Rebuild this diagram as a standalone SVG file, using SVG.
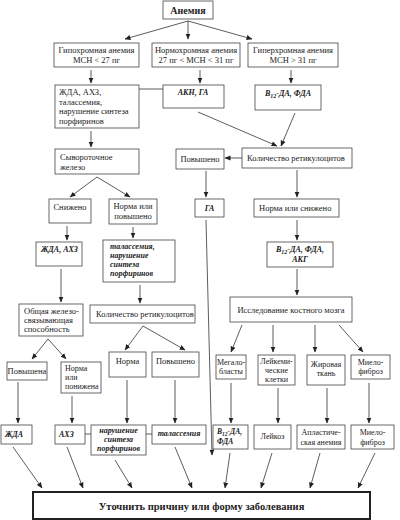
<svg xmlns="http://www.w3.org/2000/svg" width="400" height="520" viewBox="0 0 400 520">
<style>
rect{fill:#fff;stroke:#444;stroke-width:0.8}
text{font-family:"Liberation Serif","Times New Roman",serif;font-size:8.5px;fill:#222}
.c{text-anchor:middle}
.b{font-weight:bold}
.bi{font-weight:bold;font-style:italic}
.s8{font-size:8px}
.big{font-size:10.5px;font-weight:bold}
#conn line,#conn path{stroke:#333;stroke-width:0.8;fill:none}
.a{marker-end:url(#ah)}
#bottom rect{stroke:#222;stroke-width:2}
</style>
<defs>
<marker id="ah" markerUnits="userSpaceOnUse" markerWidth="6" markerHeight="6" refX="5.5" refY="3" orient="auto">
<path d="M0,0.5 L6,3 L0,5.5 z" fill="#222"/>
</marker>
</defs>
<g id="conn">
<line class="a" x1="188" y1="21" x2="125" y2="39"/>
<line class="a" x1="188" y1="21" x2="188" y2="39"/>
<line class="a" x1="188" y1="21" x2="252" y2="39"/>
<line class="a" x1="91" y1="70" x2="91" y2="83"/>
<line class="a" x1="200" y1="70" x2="200" y2="83"/>
<line class="a" x1="291" y1="70" x2="291" y2="83"/>
<line x1="139" y1="89" x2="163" y2="89"/>
<line class="a" x1="198" y1="112" x2="277" y2="146"/>
<line class="a" x1="295" y1="113" x2="281" y2="146"/>
<line class="a" x1="91" y1="131" x2="91" y2="147"/>
<line class="a" x1="242" y1="158" x2="225" y2="158"/>
<line class="a" x1="97" y1="177" x2="70" y2="197"/>
<line class="a" x1="97" y1="177" x2="130" y2="197"/>
<line class="a" x1="206" y1="171" x2="206" y2="197"/>
<line class="a" x1="297" y1="170" x2="297" y2="197"/>
<line class="a" x1="67" y1="226" x2="67" y2="240"/>
<line class="a" x1="133" y1="227" x2="133" y2="238"/>
<line class="a" x1="297" y1="220" x2="297" y2="240"/>
<line class="a" x1="206" y1="220" x2="212" y2="455"/>
<line class="a" x1="61" y1="269" x2="61" y2="302"/>
<line class="a" x1="140" y1="285" x2="140" y2="303"/>
<line class="a" x1="297" y1="269" x2="297" y2="295"/>
<line class="a" x1="48" y1="339" x2="32" y2="359"/>
<line class="a" x1="48" y1="339" x2="66" y2="359"/>
<line class="a" x1="143" y1="326" x2="125" y2="350"/>
<line class="a" x1="143" y1="326" x2="185" y2="350"/>
<line class="a" x1="242" y1="325" x2="231" y2="352"/>
<line class="a" x1="273" y1="325" x2="273" y2="352"/>
<line class="a" x1="315" y1="325" x2="315" y2="352"/>
<line class="a" x1="339" y1="325" x2="363" y2="352"/>
<line class="a" x1="18" y1="382" x2="18" y2="423"/>
<line class="a" x1="72" y1="396" x2="72" y2="423"/>
<line class="a" x1="127" y1="380" x2="127" y2="423"/>
<line class="a" x1="175" y1="380" x2="175" y2="423"/>
<line class="a" x1="231" y1="383" x2="231" y2="423"/>
<line class="a" x1="278" y1="388" x2="278" y2="423"/>
<line class="a" x1="327" y1="388" x2="327" y2="423"/>
<line class="a" x1="369" y1="383" x2="369" y2="423"/>
<line x1="85" y1="434" x2="91" y2="434"/>
<line x1="146" y1="434" x2="152" y2="434"/>
<line class="a" x1="13" y1="447" x2="42" y2="488"/>
<line class="a" x1="67" y1="447" x2="83" y2="488"/>
<line class="a" x1="115" y1="460" x2="132" y2="488"/>
<line class="a" x1="175" y1="447" x2="192" y2="488"/>
<line class="a" x1="230" y1="453" x2="225" y2="488"/>
<line class="a" x1="272" y1="453" x2="261" y2="488"/>
<line class="a" x1="320" y1="453" x2="310" y2="488"/>
<line class="a" x1="375" y1="453" x2="358" y2="488"/>
</g>
<g id="anemia"><rect x="163" y="1" width="50" height="18"/><text class="c b" x="188" y="13.5" style="font-size:10px">Анемия</text></g>
<g id="hypo"><rect x="54" y="43" width="85" height="24"/><text class="c" x="96.5" y="53">Гипохромная анемия</text><text class="c" x="96.5" y="63">МСН &lt; 27 пг</text></g>
<g id="normo"><rect x="152" y="43" width="88" height="24"/><text class="c" x="196" y="53">Нормохромная анемия</text><text class="c" x="196" y="63">27 пг &lt; МСН &lt; 31 пг</text></g>
<g id="hyper"><rect x="248" y="43" width="90" height="24"/><text class="c" x="293" y="53">Гиперхромная анемия</text><text class="c" x="293" y="63">МСН &gt; 31 пг</text></g>
<g id="hypo-list"><rect x="55" y="85" width="84" height="43"/><text x="59" y="95">ЖДА, АХЗ,</text><text x="59" y="104.5">талассемия,</text><text x="59" y="114">нарушение синтеза</text><text x="59" y="123.5">порфиринов</text></g>
<g id="akn"><rect x="163" y="85" width="61" height="23"/><text class="c bi s8" x="193" y="95">АКН, ГА</text></g>
<g id="b12"><rect x="255" y="85" width="66" height="25"/><text class="c bi s8" x="288" y="96">B<tspan font-size="6" dy="2">12</tspan><tspan dy="-2">-ДА, ФДА</tspan></text></g>
<g id="serum"><rect x="55" y="149" width="84" height="25"/><text x="60" y="159.5">Сывороточное</text><text x="60" y="169.5">железо</text></g>
<g id="up1"><rect x="176" y="149" width="48" height="20"/><text class="c" x="200" y="162">Повышено</text></g>
<g id="retic1"><rect x="242" y="148" width="110" height="20"/><text x="247" y="161">Количество ретикулоцитов</text></g>
<g id="low"><rect x="49" y="199" width="42" height="24"/><text class="c" x="70" y="210">Снижено</text></g>
<g id="normup"><rect x="109" y="199" width="48" height="25"/><text class="c" x="133" y="209">Норма или</text><text class="c" x="133" y="219">повышено</text></g>
<g id="ga"><rect x="195" y="199" width="29" height="18"/><text class="c bi s8" x="209.5" y="211">ГА</text></g>
<g id="normlow"><rect x="254" y="199" width="85" height="18"/><text x="259" y="211">Норма или снижено</text></g>
<g id="zda-ahz"><rect x="36" y="242" width="46" height="24"/><text class="bi s8" x="41" y="252">ЖДА, АХЗ</text></g>
<g id="thal1"><rect x="103" y="240" width="72" height="42"/><text class="bi s8" x="110" y="249">талассемия,</text><text class="bi s8" x="110" y="258">нарушение</text><text class="bi s8" x="110" y="267">синтеза</text><text class="bi s8" x="110" y="276">порфиринов</text></g>
<g id="b12akg"><rect x="267" y="242" width="66" height="25"/><text class="c bi s8" x="300" y="252">B<tspan font-size="6" dy="2">12</tspan><tspan dy="-2">-ДА, ФДА,</tspan></text><text class="c bi s8" x="300" y="262">АКГ</text></g>
<g id="tibc"><rect x="19" y="304" width="64" height="32"/><text x="24" y="314">Общая железо-</text><text x="24" y="323">связывающая</text><text x="24" y="332">способность</text></g>
<g id="retic2"><rect x="90" y="305" width="105" height="18"/><text x="96" y="317">Количество ретикулоцитов</text></g>
<g id="marrow"><rect x="230" y="297" width="122" height="25"/><text class="c" x="291" y="313">Исследование костного мозга</text></g>
<g id="up2"><rect x="7" y="362" width="40" height="18"/><text class="c" x="27" y="373.5">Повышена</text></g>
<g id="normdown"><rect x="61" y="362" width="40" height="31"/><text class="s8" x="65" y="371">Норма</text><text class="s8" x="65" y="380">или</text><text class="s8" x="65" y="389">понижена</text></g>
<g id="norm"><rect x="109" y="352" width="37" height="25"/><text class="c" x="127.5" y="364">Норма</text></g>
<g id="up3"><rect x="152" y="352" width="47" height="25"/><text class="c" x="175.5" y="364">Повышено</text></g>
<g id="mega"><rect x="216" y="355" width="30" height="24"/><text class="c s8" x="231" y="365">Мегало-</text><text class="c s8" x="231" y="374">бласты</text></g>
<g id="leuk"><rect x="258" y="355" width="37" height="30"/><text class="c s8" x="276.5" y="364">Лейкеми-</text><text class="c s8" x="276.5" y="373">ческие</text><text class="c s8" x="276.5" y="382">клетки</text></g>
<g id="fat"><rect x="307" y="355" width="38" height="30"/><text class="c s8" x="326" y="367">Жировая</text><text class="c s8" x="326" y="376">ткань</text></g>
<g id="myelo1"><rect x="351" y="355" width="39" height="24"/><text class="c s8" x="370.5" y="365">Миело-</text><text class="c s8" x="370.5" y="374">фиброз</text></g>
<g id="r-zda"><rect x="1" y="425" width="31" height="19"/><text class="bi s8" x="5" y="437">ЖДА</text></g>
<g id="r-ahz"><rect x="55" y="425" width="30" height="19"/><text class="bi s8" x="59" y="437">АХЗ</text></g>
<g id="r-porf"><rect x="91" y="425" width="55" height="30"/><text class="c bi s8" x="118.5" y="433">нарушение</text><text class="c bi s8" x="118.5" y="442">синтеза</text><text class="c bi s8" x="118.5" y="451">порфиринов</text></g>
<g id="r-thal"><rect x="152" y="425" width="54" height="19"/><text class="c bi s8" x="179" y="436">талассемия</text></g>
<g id="r-b12"><rect x="213" y="425" width="35" height="24"/><text class="bi" x="217" y="434" style="font-size:7.5px">B<tspan font-size="5.5" dy="2">12</tspan><tspan dy="-2">-ДА,</tspan></text><text class="bi" x="217" y="444" style="font-size:7.5px">ФДА</text></g>
<g id="r-leuk"><rect x="254" y="425" width="37" height="24"/><text class="c s8" x="272.5" y="439">Лейкоз</text></g>
<g id="r-aplast"><rect x="297" y="425" width="48" height="24"/><text class="c s8" x="321" y="435">Апластиче-</text><text class="c s8" x="321" y="445">ская анемия</text></g>
<g id="r-myelo"><rect x="351" y="425" width="43" height="24"/><text class="c s8" x="372.5" y="435">Миело-</text><text class="c s8" x="372.5" y="445">фиброз</text></g>
<g id="bottom"><rect x="33" y="492" width="337" height="27"/><text class="c big" x="201.5" y="510">Уточнить причину или форму заболевания</text></g>
</svg>
